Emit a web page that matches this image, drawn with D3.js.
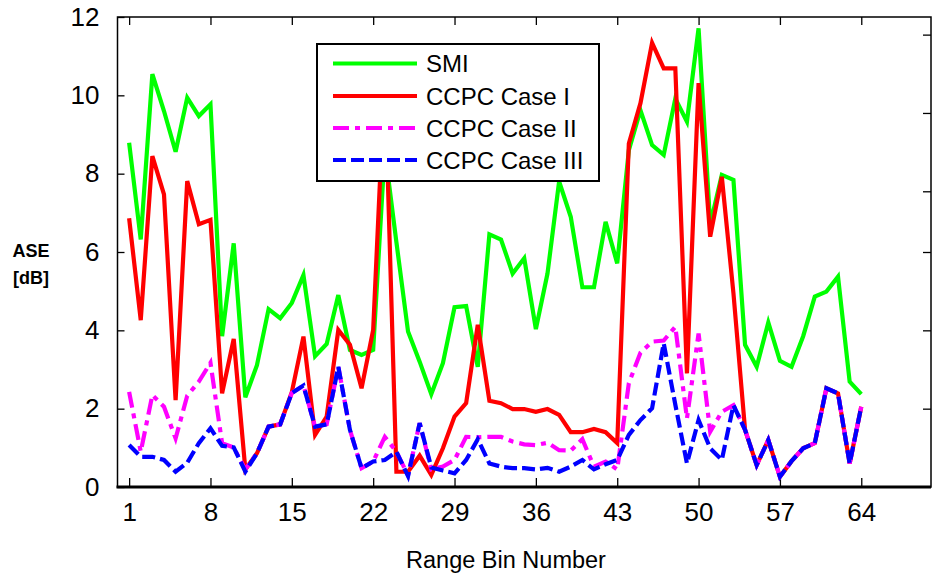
<!DOCTYPE html>
<html>
<head>
<meta charset="utf-8">
<script src="https://cdn.jsdelivr.net/npm/d3@7"></script>
<style>
  html, body { margin: 0; padding: 0; background: #fff; }
  svg { display: block; font-family: "Liberation Sans", Arial, sans-serif; }
</style>
</head>
<body>
<svg id="chart" width="932" height="579"></svg>
<script>
// ---- data ----
const bins = d3.range(1, 65);
const seriesNames = ["SMI", "CCPC Case I", "CCPC Case II", "CCPC Case III"];
const smi = [8.79, 6.32, 10.54, 9.6, 8.56, 9.94, 9.47, 9.77, 3.85, 6.22,
  2.29, 3.11, 4.54, 4.31, 4.7, 5.41, 3.34, 3.65, 4.9, 3.5,
  3.37, 3.5, 8.6, 6.25, 3.97, 3.2, 2.37, 3.16, 4.59, 4.62,
  3.07, 6.45, 6.32, 5.45, 5.84, 4.03, 5.45, 7.8, 6.9, 5.1,
  5.1, 6.77, 5.71, 8.6, 9.62, 8.73, 8.48, 9.92, 9.33, 11.71,
  6.7, 7.97, 7.84, 3.63, 3.07, 4.2, 3.22, 3.07, 3.85, 4.86,
  4.99, 5.37, 2.69, 2.37];
const ccpc1 = [6.86, 4.26, 8.45, 7.47, 2.22, 7.81, 6.71, 6.82, 2.39, 3.78,
  0.45, 0.86, 1.54, 1.6, 2.42, 3.84, 1.33, 1.8, 4.01, 3.63,
  2.52, 4.01, 10.5, 0.39, 0.39, 0.8, 0.31, 0.99, 1.8, 2.14,
  4.14, 2.2, 2.14, 1.99, 1.99, 1.92, 1.99, 1.84, 1.4, 1.4,
  1.48, 1.4, 1.12, 8.77, 9.8, 11.34, 10.69, 10.69, 2.9, 10.31,
  6.39, 7.92, 4.95, 1.46, 0.56, 1.2, 0.26, 0.66, 0.99, 1.12,
  2.52, 2.39, 0.6, 2.05];
const ccpc2 = [2.43, 0.9, 2.35, 2.05, 1.24, 2.33, 2.69, 3.17, 1.12, 1.01,
  0.45, 0.86, 1.54, 1.6, 2.4, 2.59, 1.54, 1.6, 3.07, 1.46,
  0.48, 0.65, 1.28, 0.9, 0.3, 1.63, 0.45, 0.52, 0.69, 1.28,
  1.27, 1.28, 1.28, 1.16, 1.09, 1.07, 1.13, 0.94, 0.93, 1.22,
  0.52, 0.65, 0.45, 2.65, 3.43, 3.71, 3.74, 4.09, 1.75, 3.92,
  1.41, 1.92, 2.09, 1.46, 0.56, 1.2, 0.26, 0.66, 0.99, 1.12,
  2.52, 2.39, 0.6, 2.05];
const ccpc3 = [1.07, 0.77, 0.77, 0.69, 0.39, 0.62, 1.12, 1.5, 1.05, 1.01,
  0.39, 0.86, 1.54, 1.6, 2.4, 2.59, 1.54, 1.6, 3.07, 1.46,
  0.48, 0.65, 0.69, 0.9, 0.28, 1.63, 0.5, 0.42, 0.35, 0.69,
  1.22, 0.6, 0.52, 0.48, 0.48, 0.45, 0.49, 0.39, 0.52, 0.69,
  0.45, 0.58, 0.69, 1.33, 1.71, 2.01, 3.67, 2.1, 0.6, 1.71,
  0.99, 0.69, 2.09, 1.46, 0.56, 1.2, 0.26, 0.66, 0.99, 1.12,
  2.52, 2.39, 0.6, 2.05];
const xTicks = [1, 8, 15, 22, 29, 36, 43, 50, 57, 64];
const yTicks = [0, 2, 4, 6, 8, 10, 12];
const rightTicks = [2, 4, 6, 7.55, 9.55, 11.55];

// ---- layout ----
const svg = d3.select("#chart");
const L = 117.5, R = 931, T = 17, B = 487;
const x = d3.scaleLinear().domain([0, 70]).range([L, R]);
const y = d3.scaleLinear().domain([0, 12]).range([B, T]);

const styles = [
  { color: "#00ff00", dash: null },
  { color: "#ff0000", dash: null },
  { color: "#ff00ff", dash: "16,6,5,6" },
  { color: "#0000ff", dash: "13,5" }
];
const allSeries = [smi, ccpc1, ccpc2, ccpc3];

// axes
const fontSize = 26;
const gx = svg.append("g").attr("transform", `translate(0,${B})`)
  .call(d3.axisBottom(x).tickValues(xTicks).tickSizeInner(-9).tickSizeOuter(0).tickPadding(16));
const gy = svg.append("g").attr("transform", `translate(${L},0)`)
  .call(d3.axisLeft(y).tickValues(yTicks).tickSizeInner(-7).tickSizeOuter(0).tickPadding(18));
const gt = svg.append("g").attr("transform", `translate(0,${T})`)
  .call(d3.axisTop(x).tickValues(xTicks).tickSizeInner(-8).tickSizeOuter(0).tickFormat(""));
const gr = svg.append("g").attr("transform", `translate(${R},0)`)
  .call(d3.axisRight(y).tickValues(rightTicks).tickSizeInner(-8).tickSizeOuter(0).tickFormat(""));
[gx, gy, gt, gr].forEach(g => {
  g.select(".domain").remove();
  g.selectAll(".tick line").attr("stroke", "#000").attr("stroke-width", 1.3);
  g.selectAll(".tick text").attr("fill", "#000")
    .style("font-size", fontSize + "px")
    .style("font-family", "'Liberation Sans', Arial, sans-serif");
});

// lines
const line = d3.line().x((d, i) => x(bins[i])).y(d => y(d));
allSeries.forEach((s, k) => {
  svg.append("path").datum(s)
    .attr("d", line)
    .attr("fill", "none")
    .attr("stroke", styles[k].color)
    .attr("stroke-width", 4.2)
    .attr("stroke-linejoin", "miter")
    .attr("stroke-dasharray", styles[k].dash);
});

// frame
svg.append("rect").attr("x", L).attr("y", T).attr("width", R - L).attr("height", B - T)
  .attr("fill", "none").attr("stroke", "#000").attr("stroke-width", 1.5);
svg.append("line").attr("x1", L - 1).attr("x2", R).attr("y1", B).attr("y2", B)
  .attr("stroke", "#000").attr("stroke-width", 3);

// axis titles
svg.append("text").attr("x", 31).attr("y", 257).attr("text-anchor", "middle")
  .style("font-weight", "bold").style("font-size", "18px").text("ASE");
svg.append("text").attr("x", 31).attr("y", 284).attr("text-anchor", "middle")
  .style("font-weight", "bold").style("font-size", "18px").text("[dB]");
svg.append("text").attr("x", 506).attr("y", 568).attr("text-anchor", "middle")
  .style("font-size", "23.5px").text("Range Bin Number");

// legend
const lg = svg.append("g");
lg.append("rect").attr("x", 317).attr("y", 44).attr("width", 282).attr("height", 137)
  .attr("fill", "#fff").attr("stroke", "#000").attr("stroke-width", 2);
const legY = [63.5, 96, 128, 160];
seriesNames.forEach((n, k) => {
  lg.append("line").attr("x1", 333).attr("x2", 417).attr("y1", legY[k]).attr("y2", legY[k])
    .attr("stroke", styles[k].color).attr("stroke-width", 4.2)
    .attr("stroke-dasharray", styles[k].dash);
  lg.append("text").attr("x", 426).attr("y", legY[k]).attr("dy", "0.36em")
    .style("font-size", "24px").text(n);
});
</script>
</body>
</html>
